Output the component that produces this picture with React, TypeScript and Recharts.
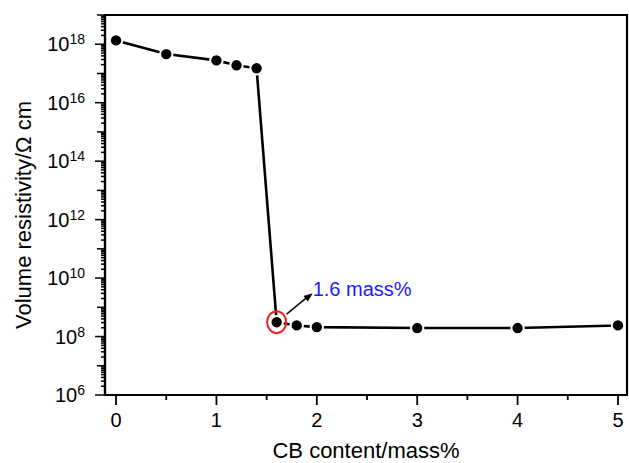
import { LineChart, Line, XAxis, YAxis, ReferenceDot, ReferenceArea } from 'recharts'

const FONT = '"Liberation Sans", Arial, Helvetica, sans-serif'

// CB content (mass%) vs volume resistivity (Ω cm)
const cbContent = [0, 0.5, 1, 1.2, 1.4, 1.6, 1.8, 2, 3, 4, 5]
const resistivity = [1.35e18, 4.6e17, 2.8e17, 1.9e17, 1.5e17, 3.1e8, 2.4e8, 2.1e8, 1.95e8, 1.95e8, 2.4e8]

const xTicks = [0, 0.5, 1, 1.5, 2, 2.5, 3, 3.5, 4, 4.5, 5]
const decadeExponents = [6, 7, 8, 9, 10, 11, 12, 13, 14, 15, 16, 17, 18]
const minorMultipliers = [1, 2, 3, 4, 5, 6, 7, 8, 9]

const thresholdIndex = 5
const annotationText = '1.6 mass%'

const data = cbContent.map((c, i) => ({ c, r: resistivity[i] }))

const yTicks = [
  ...decadeExponents.flatMap((n) => minorMultipliers.map((m) => m * Math.pow(10, n))),
  1e19,
]

const XTick = ({ x, y, payload }: any) => {
  const v = payload.value
  const major = Number.isInteger(v)
  return (
    <g>
      <line x1={x} x2={x} y1={y} y2={y + (major ? 10 : 5)} stroke="#000" strokeWidth={1.8} />
      {major && (
        <text x={x} y={y + 32} textAnchor="middle" fontSize={20} fontFamily={FONT} fill="#000">
          {v}
        </text>
      )}
    </g>
  )
}

const YTick = ({ x, y, payload }: any) => {
  const e = Math.log10(payload.value)
  const n = Math.round(e)
  const decade = Math.abs(e - n) < 1e-6
  const labelled = decade && n % 2 === 0
  const len = decade ? (n % 2 === 0 ? 10 : 8) : 4
  return (
    <g>
      <line x1={x} x2={x - len} y1={y} y2={y} stroke="#000" strokeWidth={1.5} />
      {labelled && (
        <text x={x - 20} y={y + 7} textAnchor="end" fontSize={20} fontFamily={FONT} fill="#000">
          10
          <tspan dy={-7} fontSize={14}>
            {n}
          </tspan>
        </text>
      )}
    </g>
  )
}

const XTitle = (props: any) => {
  const vb = props.viewBox || { x: 105, y: 395, width: 522, height: 68 }
  return (
    <text x={vb.x + vb.width / 2} y={vb.y + 63} textAnchor="middle" fontSize={22} fontFamily={FONT} fill="#000">
      CB content/mass%
    </text>
  )
}

const YTitle = (props: any) => {
  const vb = props.viewBox || { x: 0, y: 15, width: 105, height: 380 }
  const cx = 31
  const cy = vb.y + vb.height / 2 + 10
  return (
    <text
      x={cx}
      y={cy}
      transform={`rotate(-90, ${cx}, ${cy})`}
      textAnchor="middle"
      fontSize={22}
      fontFamily={FONT}
      fill="#000"
    >
      Volume resistivity/Ω cm
    </text>
  )
}

const Marker = ({ cx, cy }: any) => {
  if (cx == null || cy == null) return null
  const sx = cx + 10
  const sy = cy - 8
  const ex = cx + 36
  const ey = cy - 29
  const angle = (Math.atan2(ey - sy, ex - sx) * 180) / Math.PI
  return (
    <g>
      <ellipse cx={cx} cy={cy} rx={9.5} ry={11} fill="none" stroke="#ff1a1a" strokeWidth={2} />
      <line x1={sx} y1={sy} x2={ex - 6} y2={ey + 4.5} stroke="#000" strokeWidth={1.5} />
      <g transform={`translate(${ex},${ey}) rotate(${angle})`}>
        <polygon points="0,0 -9,-3.5 -9,3.5" fill="#000" />
      </g>
      <text x={cx + 36} y={cy - 26} fontSize={20} fontFamily={FONT} fill="#1a1aff">
        {annotationText}
      </text>
    </g>
  )
}

export default function App() {
  return (
    <div style={{ position: 'absolute', left: 0, top: 0, background: '#fff' }}>
      <LineChart width={629} height={463} data={data} margin={{ top: 15, right: 2, left: 0, bottom: 0 }}>
        <XAxis
          dataKey="c"
          type="number"
          domain={[-0.11, 5.09]}
          allowDataOverflow
          ticks={xTicks}
          interval={0}
          tick={<XTick />}
          tickLine={false}
          tickSize={0}
          tickMargin={0}
          height={68}
          axisLine={{ stroke: '#000', strokeWidth: 2.2 }}
          label={<XTitle />}
        />
        <YAxis
          dataKey="r"
          type="number"
          scale="log"
          domain={[1e6, 1e19]}
          allowDataOverflow
          ticks={yTicks}
          interval={0}
          tick={<YTick />}
          tickLine={false}
          tickSize={0}
          tickMargin={0}
          width={105}
          axisLine={{ stroke: '#000', strokeWidth: 2.2 }}
          label={<YTitle />}
        />
        <ReferenceArea
          x1={-0.11}
          x2={5.09}
          y1={1e6}
          y2={1e19}
          fill="none"
          stroke="#000"
          strokeWidth={2.2}
          ifOverflow="visible"
        />
        <Line
          type="linear"
          dataKey="r"
          stroke="#000"
          strokeWidth={2.6}
          dot={{ r: 6.2, fill: '#000', stroke: '#fff', strokeWidth: 2 }}
          activeDot={false}
          isAnimationActive={false}
        />
        <ReferenceDot
          x={cbContent[thresholdIndex]}
          y={resistivity[thresholdIndex]}
          r={10}
          ifOverflow="visible"
          shape={<Marker />}
        />
      </LineChart>
    </div>
  )
}
